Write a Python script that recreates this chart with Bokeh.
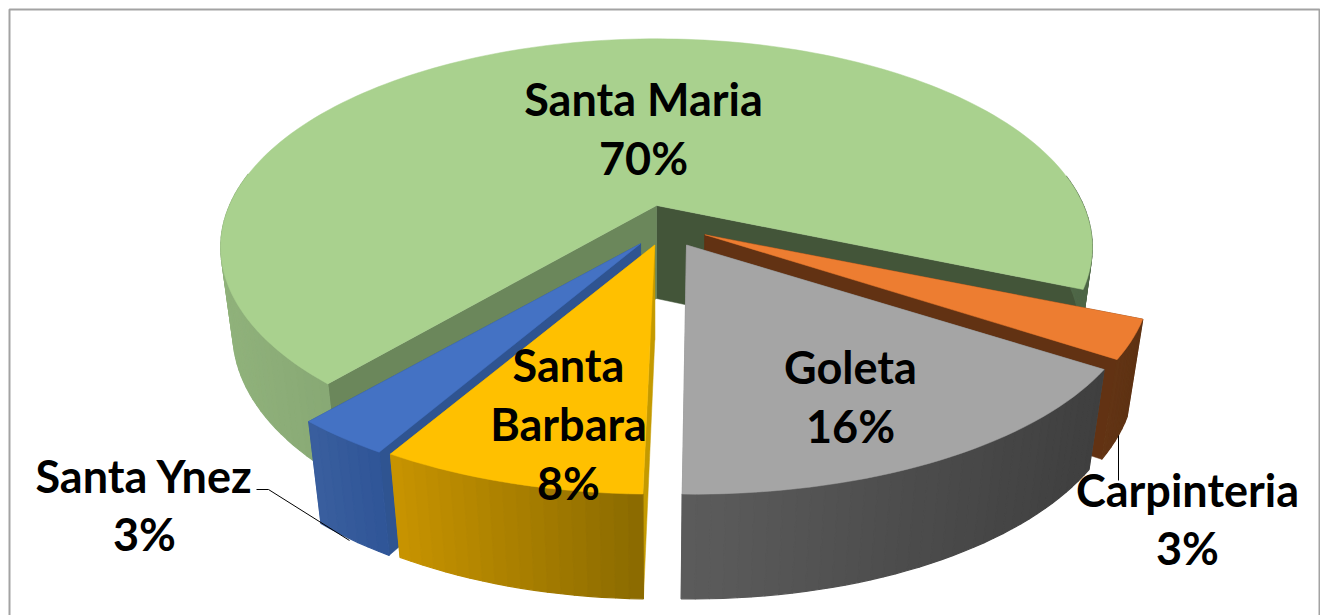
import math
from bokeh.plotting import figure
from bokeh.models import Range1d
from bokeh.core.properties import value
from bokeh.embed import file_html
from bokeh.resources import INLINE

# ---- data (counter-clockwise order as drawn, starting with Santa Maria)
categories = ["Santa Maria", "Santa Ynez", "Santa Barbara", "Goleta", "Carpinteria"]
percent = [70, 3, 8, 16, 3]

# ---- colours
top_colors = ["#A9D18E", "#4472C4", "#FFC000", "#A5A5A5", "#ED7D31"]
inner_first = ["#435539", "#2F5491", "#C49A00", "#8A8A8A", "#623213"]
inner_last = ["#6B875B", "#2F5491", "#C49A00", "#6E6E6E", "#623213"]
side_left = ["#90B27B", "#3A5F9F", "#C89400", "#5C5C5C", "#623414"]
side_right = ["#4E6647", "#2F5597", "#8A6A00", "#3F3F3F", "#5E3213"]

# ---- layout of the exploded slices (unit-disc coordinates)
offset_u = [0.0, -0.036, -0.004, 0.0676, 0.11]
offset_v = [0.0, 0.184, 0.19, 0.19, 0.142]
radius_u = [1.0, 0.97, 0.99, 1.0, 0.99]
radius_v = [1.0, 0.93, 0.93, 0.93, 0.95]
side_depth = [0.92, 1.0, 1.0, 1.0, 1.0]
start_deg = 112.8

W, H = 1320, 615
cx, cy, a, b, k, d, k2, m = 656, 205, 427, 200, 0.2, 93, 0.1, 0.03


def proj(u, v, z=0):
    w = 1 - k * v
    x = cx + a * u / (w + m * z)
    y = cy + b * v / w + d * z / (1 - k2 * v)
    return x, y


def hexrgb(c):
    return [int(c[i:i + 2], 16) for i in (1, 3, 5)]


def mix(c1, c2, t):
    t = max(0, min(1, t))
    r1, r2 = hexrgb(c1), hexrgb(c2)
    return "#%02x%02x%02x" % tuple(round(p + (q - p) * t) for p, q in zip(r1, r2))


p = figure(width=W, height=H, x_range=Range1d(0, W), y_range=Range1d(H, 0),
           toolbar_location=None, output_backend="svg", min_border=0,
           outline_line_color=None, background_fill_color="white", border_fill_color="white")
p.axis.visible = False
p.grid.visible = False

# frame
p.line([9, 9, 1319, 1319], [615, 9, 9, 615], line_color="#A3A3A3", line_width=2)

# ---- slices, painter's order: back to front
angles = []
cur = start_deg
for pct in percent:
    angles.append((cur, cur - pct * 3.6))
    cur -= pct * 3.6

for i in [0, 4, 3, 1, 2]:
    t0, t1 = angles[i]
    u0, v0, ru, rv = offset_u[i], offset_v[i], radius_u[i], radius_v[i]
    n = max(4, int(abs(t1 - t0) / 1.5))
    rim = []
    for j in range(n + 1):
        th = math.radians(t0 + (t1 - t0) * j / n)
        rim.append((u0 + ru * math.sin(th), v0 - rv * math.cos(th)))
    xs_rim = [proj(u, v)[0] for u, v in rim]
    xmin, xmax = min(xs_rim), max(xs_rim)

    # the two cut faces, the one further back first
    faces = sorted([(rim[0], inner_first[i]), (rim[-1], inner_last[i])], key=lambda f: f[0][1])
    for (u, v), col in faces:
        pts = [proj(u0, v0), proj(u, v), proj(u, v, 1), proj(u0, v0, 1)]
        p.patch([q[0] for q in pts], [q[1] for q in pts], fill_color=col, line_color=col, line_width=0.5)

    # outer side (front-facing part only)
    qx, qy, qc = [], [], []
    z = side_depth[i]
    for (u1, v1), (u2, v2) in zip(rim[:-1], rim[1:]):
        if v1 < -0.15 and v2 < -0.15:
            continue
        a1, a2, a3, a4 = proj(u1, v1), proj(u2, v2), proj(u2, v2, z), proj(u1, v1, z)
        qx.append([a1[0], a2[0], a3[0], a4[0]])
        qy.append([a1[1], a2[1], a3[1], a4[1]])
        t = ((a1[0] + a2[0]) / 2 - xmin) / max(1, xmax - xmin)
        qc.append(mix(side_left[i], side_right[i], t))
    p.patches(qx, qy, fill_color=qc, line_color=qc, line_width=1.2)

    # top face
    pts = [proj(u0, v0)] + [proj(u, v) for u, v in rim]
    p.patch([q[0] for q in pts], [q[1] for q in pts], fill_color=top_colors[i],
            line_color=top_colors[i], line_width=0.5)

# ---- leader lines
p.line([256, 268, 349], [489, 489, 540], line_color="black", line_width=1)
p.line([1118, 1118], [435, 480], line_color="black", line_width=1)

# ---- labels
pct_text = {c: f"{v}%" for c, v in zip(categories, percent)}
label_text = ["Santa Maria", pct_text["Santa Maria"], "Goleta", pct_text["Goleta"],
              "Santa", "Barbara", pct_text["Santa Barbara"],
              "Santa Ynez", pct_text["Santa Ynez"], "Carpinteria", pct_text["Carpinteria"]]
label_x = [643, 643, 850, 850, 568, 568, 568, 144, 144, 1187, 1187]
label_y = [98, 157, 366, 425, 364, 423, 482, 475, 533, 489, 547]
p.text(label_x, label_y, text=label_text, text_font=value("Lato"), text_font_style="bold",
       text_font_size="45px", text_color="black", text_align="center", text_baseline="middle")

open("out.html", "w").write(file_html(p, INLINE))
